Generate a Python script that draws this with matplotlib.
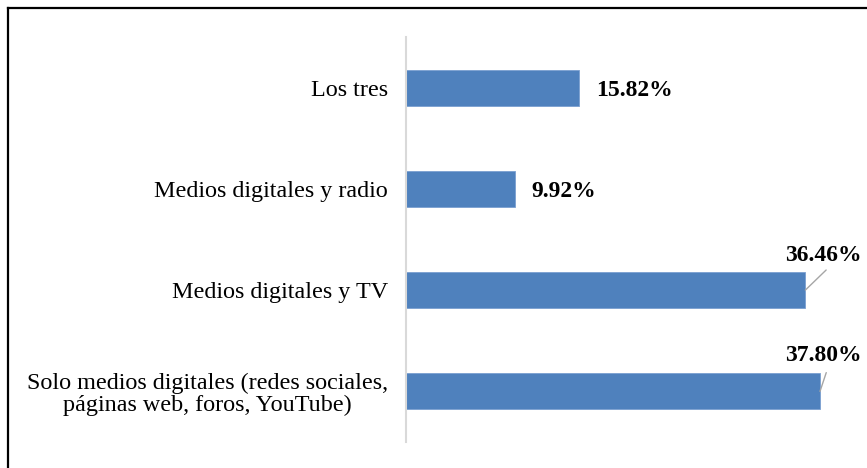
import matplotlib
matplotlib.use("Agg")
import matplotlib.pyplot as plt
from matplotlib.lines import Line2D

plt.rcParams['font.family'] = ['Liberation Serif', 'DejaVu Serif']

categories = [
    "Solo medios digitales (redes sociales,\npáginas web, foros, YouTube)",
    "Medios digitales y TV",
    "Medios digitales y radio",
    "Los tres",
]
values = [37.80, 36.46, 9.92, 15.82]
labels = ["37.80%", "36.46%", "9.92%", "15.82%"]

bar_color = "#4F81BD"

fig = plt.figure(figsize=(8.67, 4.68), dpi=100)
fig.patch.set_facecolor("white")
ax = fig.add_axes([406 / 867, 1 - 442 / 468, 460 / 867, 405 / 468])

ypos = list(range(len(categories)))
ax.barh(ypos, values, height=0.355, color=bar_color, edgecolor="#7a9fd0", linewidth=0.6)

ax.set_xlim(0, 42.0)
ax.set_ylim(-0.5, 3.5)
ax.set_yticks(ypos)
ax.set_yticklabels(categories, fontsize=17.4, color="black", multialignment="center",
                   linespacing=1.05)
ax.tick_params(axis="y", length=0, pad=13)
ax.set_xticks([])

for side in ("top", "right", "bottom"):
    ax.spines[side].set_visible(False)
ax.spines["left"].set_color("#d9d9d9")
ax.spines["left"].set_linewidth(1.5)

# data labels: short bars get the label beside the bar end,
# long bars get it above the end with a thin leader line
label_style = dict(fontsize=17, fontweight="bold", color="black", va="center")
for y, v, lab in zip(ypos, values, labels):
    if v < 20:
        ax.annotate(lab, xy=(v, y), xytext=(12, -2), textcoords="offset points",
                    ha="left", **label_style)
    else:
        if v > 37:
            line_end, text_off = (4.5, 13.5), (2.5, 26)
        else:
            line_end, text_off = (15, 14.5), (13, 25)
        ax.annotate("", xy=(v, y), xytext=line_end, textcoords="offset points",
                    arrowprops=dict(arrowstyle="-", color="#a6a6a6", lw=1.0,
                                    shrinkA=0, shrinkB=0))
        ax.annotate(lab, xy=(v, y), xytext=text_off, textcoords="offset points",
                    ha="center", **label_style)

# outer frame (left and top edges visible)
fig.add_artist(Line2D([7.5 / 867, 7.5 / 867], [0, 1 - 7.5 / 468],
                      transform=fig.transFigure, color="black", lw=1.6))
fig.add_artist(Line2D([7.5 / 867, 1], [1 - 7.5 / 468, 1 - 7.5 / 468],
                      transform=fig.transFigure, color="black", lw=1.6))

fig.savefig("out.png", dpi=100, facecolor="white")
